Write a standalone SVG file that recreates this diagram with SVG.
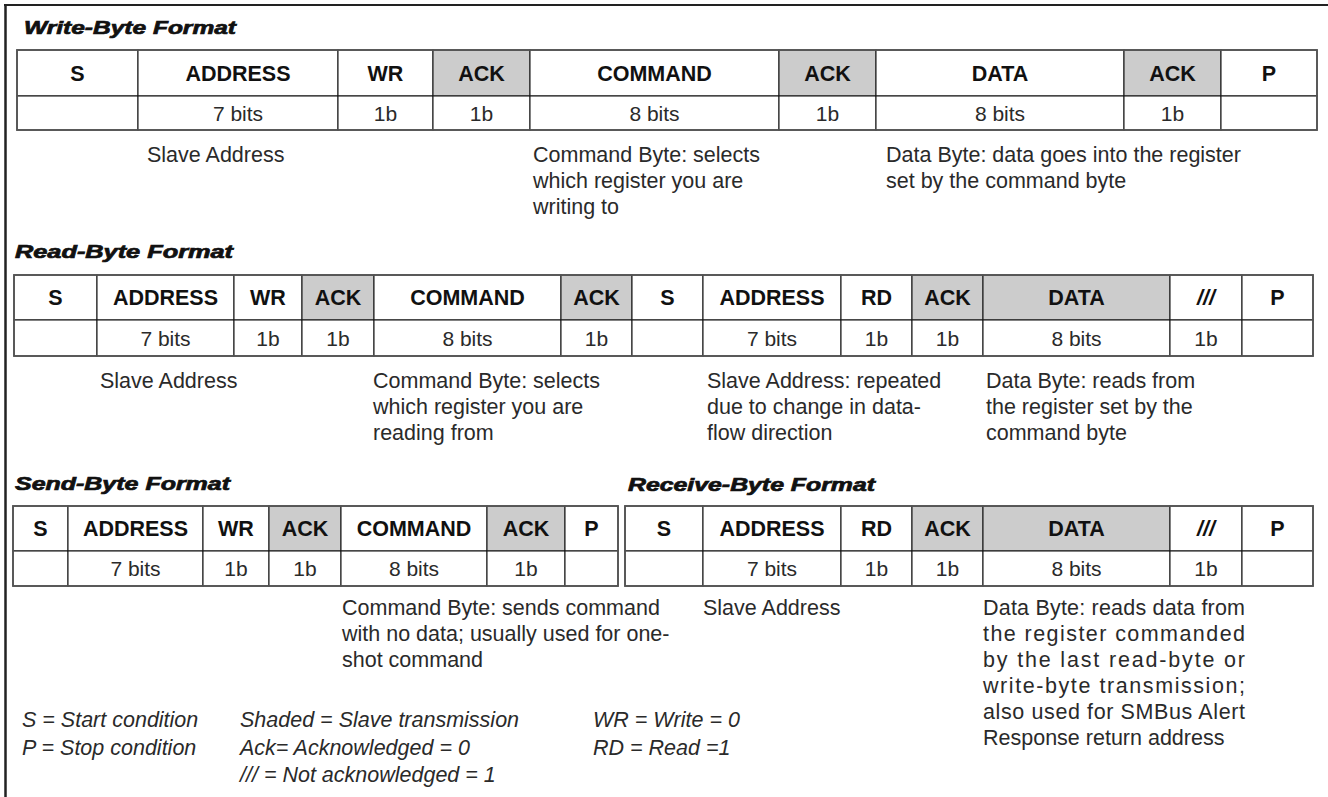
<svg xmlns="http://www.w3.org/2000/svg" width="1328" height="797" viewBox="0 0 1328 797">
<style>
.bg{fill:#ffffff}
.cell{fill:#ffffff;stroke:#1a1a1a;stroke-width:1.1}
.sh{fill:#cccccc;stroke:#1a1a1a;stroke-width:1.1}
.outer{fill:none;stroke:#555555;stroke-width:1.8}
.hd{font-family:"Liberation Sans",Arial,sans-serif;font-weight:bold;font-size:21.5px;fill:#111;text-anchor:middle}
.val{font-family:"Liberation Sans",Arial,sans-serif;font-size:21px;fill:#2a2a2a;text-anchor:middle}
.ttl{font-family:"Liberation Sans",Arial,sans-serif;font-weight:bold;font-style:italic;font-size:18px;fill:#111;stroke:#111;stroke-width:0.7}
.dsc{font-family:"Liberation Sans",Arial,sans-serif;font-size:21.5px;fill:#2a2a2a}
.leg{font-family:"Liberation Sans",Arial,sans-serif;font-style:italic;font-size:21.5px;fill:#2a2a2a}
.frame{stroke:#222;fill:none}
</style>
<rect class="bg" x="0" y="0" width="1328" height="797"/>
<g id="frame">
<line class="frame" x1="4" y1="5" x2="1328" y2="5" stroke-width="2"/>
<line class="frame" x1="5.5" y1="4" x2="5.5" y2="797" stroke-width="2.5"/>
</g>

<g id="write-byte">
<text class="ttl" x="24" y="34" textLength="212" lengthAdjust="spacingAndGlyphs">Write-Byte Format</text>
<g id="wb-s"><rect class="cell" x="17" y="50" width="121" height="46"/><rect class="cell" x="17" y="96" width="121" height="34"/><text class="hd" x="77.5" y="80.5">S</text></g>
<g id="wb-address"><rect class="cell" x="138" y="50" width="200" height="46"/><rect class="cell" x="138" y="96" width="200" height="34"/><text class="hd" x="238" y="80.5">ADDRESS</text><text class="val" x="238" y="120.5">7 bits</text></g>
<g id="wb-wr"><rect class="cell" x="338" y="50" width="95" height="46"/><rect class="cell" x="338" y="96" width="95" height="34"/><text class="hd" x="385.5" y="80.5">WR</text><text class="val" x="385.5" y="120.5">1b</text></g>
<g id="wb-ack1"><rect class="sh" x="433" y="50" width="97" height="46"/><rect class="cell" x="433" y="96" width="97" height="34"/><text class="hd" x="481.5" y="80.5">ACK</text><text class="val" x="481.5" y="120.5">1b</text></g>
<g id="wb-command"><rect class="cell" x="530" y="50" width="249" height="46"/><rect class="cell" x="530" y="96" width="249" height="34"/><text class="hd" x="654.5" y="80.5">COMMAND</text><text class="val" x="654.5" y="120.5">8 bits</text></g>
<g id="wb-ack2"><rect class="sh" x="779" y="50" width="97" height="46"/><rect class="cell" x="779" y="96" width="97" height="34"/><text class="hd" x="827.5" y="80.5">ACK</text><text class="val" x="827.5" y="120.5">1b</text></g>
<g id="wb-data"><rect class="cell" x="876" y="50" width="248" height="46"/><rect class="cell" x="876" y="96" width="248" height="34"/><text class="hd" x="1000" y="80.5">DATA</text><text class="val" x="1000" y="120.5">8 bits</text></g>
<g id="wb-ack3"><rect class="sh" x="1124" y="50" width="97" height="46"/><rect class="cell" x="1124" y="96" width="97" height="34"/><text class="hd" x="1172.5" y="80.5">ACK</text><text class="val" x="1172.5" y="120.5">1b</text></g>
<g id="wb-p"><rect class="cell" x="1221" y="50" width="96" height="46"/><rect class="cell" x="1221" y="96" width="96" height="34"/><text class="hd" x="1269" y="80.5">P</text></g>
<rect class="outer" x="17" y="50" width="1300" height="80"/>
<g id="wb-notes">
<text class="dsc" x="147" y="162">Slave Address</text>
<text class="dsc" x="533" y="162">Command Byte: selects</text>
<text class="dsc" x="533" y="188">which register you are</text>
<text class="dsc" x="533" y="214">writing to</text>
<text class="dsc" x="886" y="162">Data Byte: data goes into the register</text>
<text class="dsc" x="886" y="188">set by the command byte</text>
</g>
</g>

<g id="read-byte">
<text class="ttl" x="15" y="258" textLength="218" lengthAdjust="spacingAndGlyphs">Read-Byte Format</text>
<g id="rb-s1"><rect class="cell" x="14" y="275" width="83" height="45"/><rect class="cell" x="14" y="320" width="83" height="36"/><text class="hd" x="55.5" y="305">S</text></g>
<g id="rb-address1"><rect class="cell" x="97" y="275" width="137" height="45"/><rect class="cell" x="97" y="320" width="137" height="36"/><text class="hd" x="165.5" y="305">ADDRESS</text><text class="val" x="165.5" y="345.5">7 bits</text></g>
<g id="rb-wr"><rect class="cell" x="234" y="275" width="68" height="45"/><rect class="cell" x="234" y="320" width="68" height="36"/><text class="hd" x="268" y="305">WR</text><text class="val" x="268" y="345.5">1b</text></g>
<g id="rb-ack1"><rect class="sh" x="302" y="275" width="72" height="45"/><rect class="cell" x="302" y="320" width="72" height="36"/><text class="hd" x="338" y="305">ACK</text><text class="val" x="338" y="345.5">1b</text></g>
<g id="rb-command"><rect class="cell" x="374" y="275" width="187" height="45"/><rect class="cell" x="374" y="320" width="187" height="36"/><text class="hd" x="467.5" y="305">COMMAND</text><text class="val" x="467.5" y="345.5">8 bits</text></g>
<g id="rb-ack2"><rect class="sh" x="561" y="275" width="71" height="45"/><rect class="cell" x="561" y="320" width="71" height="36"/><text class="hd" x="596.5" y="305">ACK</text><text class="val" x="596.5" y="345.5">1b</text></g>
<g id="rb-s2"><rect class="cell" x="632" y="275" width="71" height="45"/><rect class="cell" x="632" y="320" width="71" height="36"/><text class="hd" x="667.5" y="305">S</text></g>
<g id="rb-address2"><rect class="cell" x="703" y="275" width="138" height="45"/><rect class="cell" x="703" y="320" width="138" height="36"/><text class="hd" x="772" y="305">ADDRESS</text><text class="val" x="772" y="345.5">7 bits</text></g>
<g id="rb-rd"><rect class="cell" x="841" y="275" width="71" height="45"/><rect class="cell" x="841" y="320" width="71" height="36"/><text class="hd" x="876.5" y="305">RD</text><text class="val" x="876.5" y="345.5">1b</text></g>
<g id="rb-ack3"><rect class="sh" x="912" y="275" width="71" height="45"/><rect class="cell" x="912" y="320" width="71" height="36"/><text class="hd" x="947.5" y="305">ACK</text><text class="val" x="947.5" y="345.5">1b</text></g>
<g id="rb-data"><rect class="sh" x="983" y="275" width="187" height="45"/><rect class="cell" x="983" y="320" width="187" height="36"/><text class="hd" x="1076.5" y="305">DATA</text><text class="val" x="1076.5" y="345.5">8 bits</text></g>
<g id="rb-nack"><rect class="cell" x="1170" y="275" width="72" height="45"/><rect class="cell" x="1170" y="320" width="72" height="36"/><text class="hd" x="1206" y="305" font-style="italic">///</text><text class="val" x="1206" y="345.5">1b</text></g>
<g id="rb-p"><rect class="cell" x="1242" y="275" width="71" height="45"/><rect class="cell" x="1242" y="320" width="71" height="36"/><text class="hd" x="1277.5" y="305">P</text></g>
<rect class="outer" x="14" y="275" width="1299" height="81"/>
<g id="rb-notes">
<text class="dsc" x="100" y="388">Slave Address</text>
<text class="dsc" x="373" y="388">Command Byte: selects</text>
<text class="dsc" x="373" y="414">which register you are</text>
<text class="dsc" x="373" y="440">reading from</text>
<text class="dsc" x="707" y="388">Slave Address: repeated</text>
<text class="dsc" x="707" y="414">due to change in data-</text>
<text class="dsc" x="707" y="440">flow direction</text>
<text class="dsc" x="986" y="388">Data Byte: reads from</text>
<text class="dsc" x="986" y="414">the register set by the</text>
<text class="dsc" x="986" y="440">command byte</text>
</g>
</g>

<g id="send-byte">
<text class="ttl" x="15" y="490" textLength="215" lengthAdjust="spacingAndGlyphs">Send-Byte Format</text>
<g id="sb-s"><rect class="cell" x="13" y="506" width="55" height="45"/><rect class="cell" x="13" y="551" width="55" height="35"/><text class="hd" x="40.5" y="536">S</text></g>
<g id="sb-address"><rect class="cell" x="68" y="506" width="135" height="45"/><rect class="cell" x="68" y="551" width="135" height="35"/><text class="hd" x="135.5" y="536">ADDRESS</text><text class="val" x="135.5" y="576">7 bits</text></g>
<g id="sb-wr"><rect class="cell" x="203" y="506" width="66" height="45"/><rect class="cell" x="203" y="551" width="66" height="35"/><text class="hd" x="236" y="536">WR</text><text class="val" x="236" y="576">1b</text></g>
<g id="sb-ack1"><rect class="sh" x="269" y="506" width="72" height="45"/><rect class="cell" x="269" y="551" width="72" height="35"/><text class="hd" x="305" y="536">ACK</text><text class="val" x="305" y="576">1b</text></g>
<g id="sb-command"><rect class="cell" x="341" y="506" width="146" height="45"/><rect class="cell" x="341" y="551" width="146" height="35"/><text class="hd" x="414" y="536">COMMAND</text><text class="val" x="414" y="576">8 bits</text></g>
<g id="sb-ack2"><rect class="sh" x="487" y="506" width="78" height="45"/><rect class="cell" x="487" y="551" width="78" height="35"/><text class="hd" x="526" y="536">ACK</text><text class="val" x="526" y="576">1b</text></g>
<g id="sb-p"><rect class="cell" x="565" y="506" width="53" height="45"/><rect class="cell" x="565" y="551" width="53" height="35"/><text class="hd" x="591.5" y="536">P</text></g>
<rect class="outer" x="13" y="506" width="605" height="80"/>
<g id="sb-notes">
<text class="dsc" x="342" y="615">Command Byte: sends command</text>
<text class="dsc" x="342" y="641">with no data; usually used for one-</text>
<text class="dsc" x="342" y="667">shot command</text>
</g>
</g>

<g id="receive-byte">
<text class="ttl" x="628" y="491" textLength="247" lengthAdjust="spacingAndGlyphs">Receive-Byte Format</text>
<g id="rc-s"><rect class="cell" x="625" y="506" width="78" height="45"/><rect class="cell" x="625" y="551" width="78" height="35"/><text class="hd" x="664" y="536">S</text></g>
<g id="rc-address"><rect class="cell" x="703" y="506" width="138" height="45"/><rect class="cell" x="703" y="551" width="138" height="35"/><text class="hd" x="772" y="536">ADDRESS</text><text class="val" x="772" y="576">7 bits</text></g>
<g id="rc-rd"><rect class="cell" x="841" y="506" width="71" height="45"/><rect class="cell" x="841" y="551" width="71" height="35"/><text class="hd" x="876.5" y="536">RD</text><text class="val" x="876.5" y="576">1b</text></g>
<g id="rc-ack"><rect class="sh" x="912" y="506" width="71" height="45"/><rect class="cell" x="912" y="551" width="71" height="35"/><text class="hd" x="947.5" y="536">ACK</text><text class="val" x="947.5" y="576">1b</text></g>
<g id="rc-data"><rect class="sh" x="983" y="506" width="187" height="45"/><rect class="cell" x="983" y="551" width="187" height="35"/><text class="hd" x="1076.5" y="536">DATA</text><text class="val" x="1076.5" y="576">8 bits</text></g>
<g id="rc-nack"><rect class="cell" x="1170" y="506" width="72" height="45"/><rect class="cell" x="1170" y="551" width="72" height="35"/><text class="hd" x="1206" y="536" font-style="italic">///</text><text class="val" x="1206" y="576">1b</text></g>
<g id="rc-p"><rect class="cell" x="1242" y="506" width="71" height="45"/><rect class="cell" x="1242" y="551" width="71" height="35"/><text class="hd" x="1277.5" y="536">P</text></g>
<rect class="outer" x="625" y="506" width="688" height="80"/>
<g id="rc-notes">
<text class="dsc" x="703" y="615">Slave Address</text>
<text class="dsc" x="983" y="615" textLength="262" lengthAdjust="spacing">Data Byte: reads data from</text>
<text class="dsc" x="983" y="641" textLength="262" lengthAdjust="spacing">the register commanded</text>
<text class="dsc" x="983" y="667" textLength="262" lengthAdjust="spacing">by the last read-byte or</text>
<text class="dsc" x="983" y="693" textLength="262" lengthAdjust="spacing">write-byte transmission;</text>
<text class="dsc" x="983" y="719" textLength="262" lengthAdjust="spacing">also used for SMBus Alert</text>
<text class="dsc" x="983" y="745">Response return address</text>
</g>
</g>

<g id="legend">
<text class="leg" x="22" y="727">S = Start condition</text>
<text class="leg" x="22" y="755">P = Stop condition</text>
<text class="leg" x="240" y="727">Shaded = Slave transmission</text>
<text class="leg" x="240" y="755">Ack= Acknowledged = 0</text>
<text class="leg" x="240" y="782">/// = Not acknowledged = 1</text>
<text class="leg" x="593" y="727">WR = Write = 0</text>
<text class="leg" x="593" y="755">RD = Read =1</text>
</g>
</svg>
